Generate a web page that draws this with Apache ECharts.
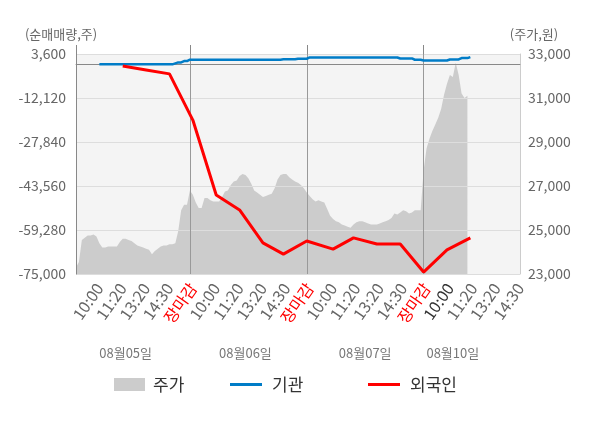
<!DOCTYPE html>
<html>
<head>
<meta charset="utf-8">
<script src="https://cdn.jsdelivr.net/npm/echarts@6/dist/echarts.min.js"></script>
<style>
html,body{margin:0;padding:0;background:#fff;}
#chart{width:600px;height:428px;}
</style>
</head>
<body>
<div id="chart"></div>
<script>
// x slots (category axis positions)
const slotCount = 153;
const categories = [];
for (let i = 0; i < slotCount; i++) categories.push(String(i));

// tick labels
const tickIdx = [8,16,24,32,40,48,56,64,72,80,88,96,104,112,120,128,136,144,152];
const tickText = ['10:00','11:20','13:20','14:30','장마감','10:00','11:20','13:20','14:30','장마감',
                  '10:00','11:20','13:20','14:30','장마감','10:00','11:20','13:20','14:30'];
const dayIdx = [17,58,99,129];
const dayText = ['08월05일','08월06일','08월07일','08월10일'];
const boundaryIdx = [39,79,119];

// 주가 (price), from slot 0
const price = [23300,23550,24550,24650,24750,24750,24800,24700,24400,24200,
 24200,24250,24250,24250,24250,24450,24600,24600,24550,24500,
 24400,24300,24250,24200,24150,24100,23900,24050,24150,24250,
 24300,24300,24350,24350,24400,24950,25900,26150,26150,26800,
 26600,26250,26000,26000,26450,26450,26350,26300,26300,26300,
 26500,26750,26800,27050,27200,27250,27450,27550,27500,27350,
 27100,26800,26700,26600,26500,26550,26600,26650,26900,27300,
 27500,27550,27550,27400,27300,27200,27150,27050,26900,26700,
 26550,26400,26300,26350,26300,26250,25950,25650,25500,25400,
 25350,25250,25200,25150,25100,25250,25350,25400,25400,25350,
 25300,25250,25250,25250,25300,25350,25400,25450,25550,25750,
 25700,25800,25900,25850,25750,25800,25900,25900,25900,27700,
 28700,29150,29500,29800,30100,30500,31150,31650,32050,31950,
 32600,32050,31200,31000,31100];

// 기관 (institution) net volume
const instIdx = [8,33,34,35,36,37,38,39,70,71,75,76,79,80,110,111,115,116,118,119,127,128,131,132,134,135];
const instVal = [-100,-100,250,600,600,1070,1070,1570,1570,1700,1700,1900,1900,2360,2360,2000,2000,1540,1540,1290,1290,1640,1640,2140,2140,2500];

// 외국인 (foreigner) net volume
const forIdx = [16,24,32,40,48,56,64,71,79,88,95,103,111,119,127,135];
const forVal = [-700,-2100,-3500,-20000,-46800,-52100,-63900,-67900,-63200,-66100,-62100,-64300,-64300,-74300,-66400,-62100];

function sparse(idx, vals) {
  const arr = new Array(slotCount).fill(null);
  idx.forEach((k, j) => { arr[k] = vals[j]; });
  return arr;
}
const priceData = new Array(slotCount).fill(null);
price.forEach((v, i) => { priceData[i] = v; });

const font = 'Noto Sans CJK KR';
const fmt = v => Number(v).toLocaleString('en-US');
const tickMap = {}; tickIdx.forEach((k, j) => { tickMap[k] = tickText[j]; });
const dayMap = {}; dayIdx.forEach((k, j) => { dayMap[k] = dayText[j]; });

const chart = echarts.init(document.getElementById('chart'), null, {renderer: 'canvas'});
chart.setOption({
  animation: false,
  textStyle: {fontFamily: font},
  grid: {left: 76, right: 80, top: 54, bottom: 154, show: true, backgroundColor: '#f4f4f4', borderWidth: 0},
  legend: [
    {data: ['주가'], left: 114, top: 376, padding: 0, icon: 'rect', itemWidth: 31, itemHeight: 13,
     textStyle: {fontSize: 17, color: '#333', fontFamily: font, padding: [0,0,0,3]}},
    {data: ['기관'], left: 230, top: 376, padding: 0, icon: 'rect', itemWidth: 32, itemHeight: 3,
     textStyle: {fontSize: 17, color: '#333', fontFamily: font, padding: [0,0,0,5]}},
    {data: ['외국인'], left: 368, top: 376, padding: 0, icon: 'rect', itemWidth: 32, itemHeight: 3,
     textStyle: {fontSize: 17, color: '#333', fontFamily: font, padding: [0,0,0,5]}}
  ],
  xAxis: [
    {
      type: 'category', data: categories, boundaryGap: false, z: 3,
      axisLine: {lineStyle: {color: '#999', width: 1}},
      axisTick: {show: true, length: 4, interval: (i) => i === 0, lineStyle: {color: '#888'}},
      axisLabel: {
        interval: (i) => tickMap[i] !== undefined,
        formatter: (v, i) => tickMap[i] || '',
        rotate: 55, margin: 11, fontSize: 16, fontFamily: font,
        color: (v) => {
          const i = Number(v);
          if (tickMap[i] === '장마감') return '#ff0000';
          if (i === 128) return '#333333';
          return '#666666';
        }
      },
      splitLine: {show: true, interval: (i) => boundaryIdx.indexOf(i) >= 0, lineStyle: {color: '#999', width: 1}}
    },
    {
      type: 'category', data: categories, boundaryGap: false, position: 'top',
      axisLine: {show: false},
      axisTick: {show: true, length: 9, interval: (i) => i === 0 || boundaryIdx.indexOf(i) >= 0, lineStyle: {color: '#888'}},
      axisLabel: {show: false}, splitLine: {show: false}
    },
    {
      type: 'category', data: categories, boundaryGap: false, position: 'bottom', offset: 64,
      axisLine: {show: false}, axisTick: {show: false},
      axisLabel: {
        interval: (i) => dayMap[i] !== undefined,
        formatter: (v, i) => dayMap[i] || '',
        margin: 9, fontSize: 13, color: '#777', fontFamily: font
      },
      splitLine: {show: false}
    }
  ],
  yAxis: [
    {
      type: 'value', min: -75000, max: 3600, interval: 15720, z: 3,
      name: '(순매매량,주)', nameLocation: 'end', nameGap: 13,
      nameTextStyle: {fontSize: 13, color: '#666', fontFamily: font, align: 'center', padding: [0, 30, 0, 0]},
      axisLine: {show: true, lineStyle: {color: '#888'}},
      axisTick: {show: false},
      axisLabel: {fontSize: 14, color: '#666', margin: 10, fontFamily: font, formatter: fmt},
      splitLine: {show: true, lineStyle: {color: '#dddddd', width: 1}}
    },
    {
      type: 'value', min: 23000, max: 33000, interval: 2000, position: 'right',
      name: '(주가,원)', nameLocation: 'end', nameGap: 13,
      nameTextStyle: {fontSize: 13, color: '#666', fontFamily: font, align: 'center', padding: [0, 0, 0, 28]},
      axisLine: {show: true, lineStyle: {color: '#cccccc'}},
      axisTick: {show: false},
      axisLabel: {fontSize: 14, color: '#666', margin: 8, fontFamily: font, formatter: fmt},
      splitLine: {show: false}
    }
  ],
  series: [
    {
      name: '주가', type: 'line', yAxisIndex: 1, data: priceData, symbol: 'none', z: 2,
      lineStyle: {width: 0, color: '#cccccc'}, itemStyle: {color: '#cccccc'},
      areaStyle: {color: '#cccccc', opacity: 1, origin: 'start'}
    },
    {
      name: '기관', type: 'line', yAxisIndex: 0, data: sparse(instIdx, instVal), connectNulls: true,
      symbol: 'none', z: 5, lineStyle: {color: '#007cc7', width: 2.5}, itemStyle: {color: '#007cc7'},
      markLine: {silent: true, symbol: 'none', label: {show: false},
        lineStyle: {color: '#888', width: 1, type: 'solid'}, data: [{yAxis: 0}]}
    },
    {
      name: '외국인', type: 'line', yAxisIndex: 0, data: sparse(forIdx, forVal), connectNulls: true,
      symbol: 'none', z: 6, lineStyle: {color: '#ff0000', width: 3}, itemStyle: {color: '#ff0000'}
    }
  ]
});
</script>
</body>
</html>
